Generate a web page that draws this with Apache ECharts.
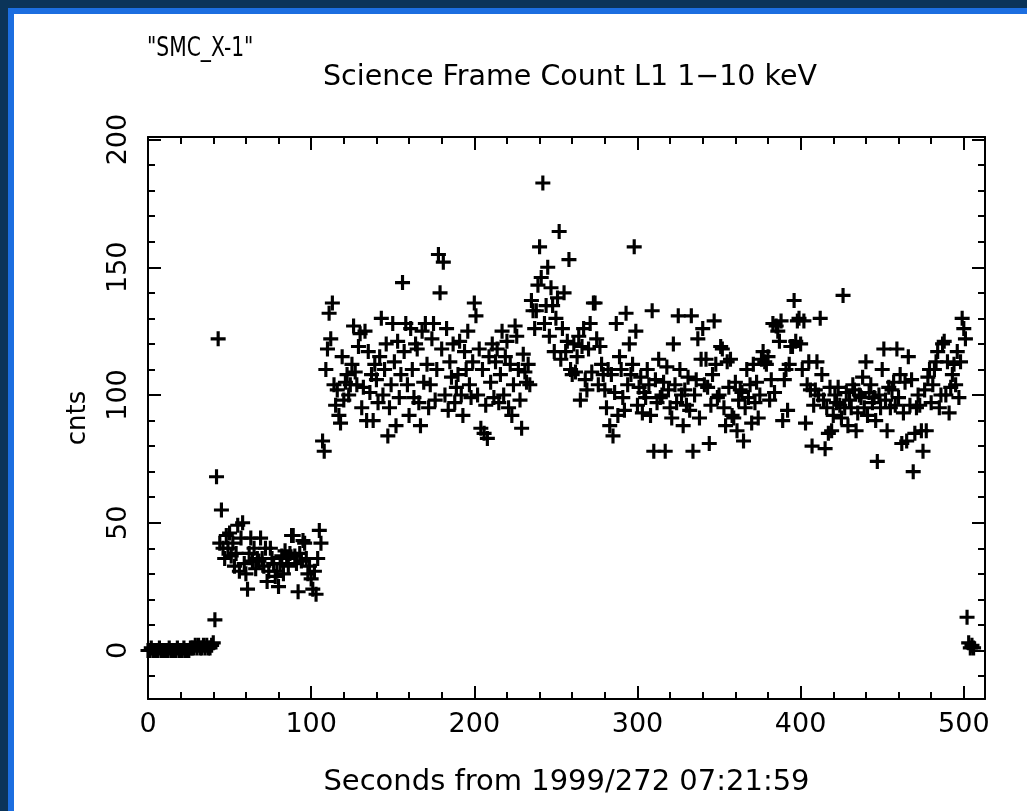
<!DOCTYPE html>
<html>
<head>
<meta charset="utf-8">
<script src="https://cdn.jsdelivr.net/npm/echarts@6/dist/echarts.min.js"></script>
<style>
html,body{margin:0;padding:0;background:#0b3459;}
#chart{width:1027px;height:811px;}
</style>
</head>
<body>
<div id="chart"></div>
<script>
// ---- data: counts per 1-second bin, grouped by 100 s blocks ----
const titleText = '"SMC_X-1"';
const subtitleText = 'Science Frame Count L1 1\u221210 keV';
const xName = 'Seconds from 1999/272 07:21:59';
const yName = 'cnts';
const xTickLabels = [0, 100, 200, 300, 400, 500];
const yTickLabels = [0, 50, 100, 150, 200];

const counts000 = [
  0,0,1,0,0,0,0,1,0,0,
  0,0,0,1,0,0,0,0,1,0,
  0,0,1,0,0,0,1,1,1,2,
  1,2,1,1,2,1,2,1,1,2,
  3,12,68,122,42,55,40,36,45,40,
  46,37,42,33,38,49,31,44,50,34,
  30,24,38,44,35,40,32,36,35,44,
  36,33,40,27,31,40,36,34,29,31,
  25,34,37,30,39,36,33,38,45,45,
  37,34,23,38,35,43,42,36,30,33
];
const counts100 = [
  28,24,31,22,36,47,42,82,78,110,
  118,132,122,136,104,96,102,92,89,115,
  98,105,108,100,104,112,127,109,104,119,
  124,95,103,125,90,117,101,108,90,112,
  106,97,115,130,100,110,120,84,95,104,
  128,113,88,121,99,108,144,117,128,104,
  92,126,110,99,120,118,97,88,125,105,
  128,112,95,104,122,128,98,110,155,140,
  118,152,100,126,94,113,107,120,97,103,
  108,121,100,92,117,110,125,104,99,113
];
const counts200 = [
  136,131,100,118,87,110,85,96,83,115,
  105,120,99,113,118,97,108,125,100,115,
  121,95,112,92,104,127,123,110,98,87,
  116,109,105,112,104,137,133,126,133,143,
  158,146,183,128,135,150,123,142,135,117,
  130,138,164,114,126,140,117,121,153,110,
  108,120,109,115,123,98,119,126,106,102,
  118,128,109,136,136,122,104,119,112,108,
  102,95,110,88,108,84,101,128,92,115,
  110,99,94,132,104,120,108,112,158,125
];
const counts300 = [
  96,103,107,93,101,99,110,104,92,133,
  78,106,97,114,99,100,105,78,111,102,
  95,91,120,104,97,131,110,100,88,102,
  96,107,94,131,78,100,106,122,91,114,
  126,104,114,103,81,96,108,129,112,99,
  100,119,118,95,88,113,103,114,92,91,
  105,86,98,102,101,82,95,110,99,104,
  89,112,97,105,91,100,114,117,113,112,
  115,98,106,128,101,127,125,121,129,90,
  106,110,94,112,119,119,137,121,129,130
];
const counts400 = [
  120,110,129,89,104,113,102,80,96,102,
  113,100,130,108,98,79,95,85,103,86,
  92,100,97,103,96,91,139,95,101,88,
  98,95,104,102,86,93,100,99,107,95,
  113,92,101,104,97,99,90,74,100,95,
  110,118,98,86,103,95,102,105,96,118,
  99,108,81,93,105,82,115,96,106,70,
  85,95,100,96,86,78,102,86,107,110,
  97,104,110,113,117,95,100,120,121,100,
  113,93,103,108,112,104,117,99,113,130
];
const counts500 = [126,122,13,3,1,2,1];

const blocks = [
  {start: 0, counts: counts000},
  {start: 100, counts: counts100},
  {start: 200, counts: counts200},
  {start: 300, counts: counts300},
  {start: 400, counts: counts400},
  {start: 500, counts: counts500}
];
const points = [];
blocks.forEach(b => b.counts.forEach((c, i) => points.push([b.start + i, c])));

// ---- axes helpers ----
const X_MIN = 0, X_MAX = 513, Y_MIN = -19, Y_MAX = 201;
function range(a, b, step) { const r = []; for (let v = a; v <= b + 1e-9; v += step) r.push(v); return r; }
const xMinor = range(0, 500, 20).filter(v => v % 100 !== 0);
const yMinor = range(-10, 200, 10).filter(v => v % 50 !== 0);

const FONT = 'DejaVu Sans';
const black = '#000';
function xAx(pos, ticks, len, showLine, labels) {
  return {
    type: 'value', position: pos, min: X_MIN, max: X_MAX,
    axisLine: {show: showLine, onZero: false, lineStyle: {color: black, width: 2}},
    axisTick: {show: true, inside: true, length: len, customValues: ticks, lineStyle: {color: black, width: 2}},
    axisLabel: labels ? {show: true, customValues: labels, color: black, fontFamily: FONT, fontSize: 27, margin: 12} : {show: false},
    splitLine: {show: false}
  };
}
function yAx(pos, ticks, len, showLine, labels) {
  return {
    type: 'value', position: pos, min: Y_MIN, max: Y_MAX,
    axisLine: {show: showLine, onZero: false, lineStyle: {color: black, width: 2}},
    axisTick: {show: true, inside: true, length: len, customValues: ticks, lineStyle: {color: black, width: 2}},
    axisLabel: labels ? {show: true, customValues: labels, rotate: 90, color: black, fontFamily: FONT, fontSize: 27, margin: 16} : {show: false},
    splitLine: {show: false}
  };
}

const xAxes = [
  Object.assign(xAx('bottom', xTickLabels, 13, true, xTickLabels), {
    name: xName, nameLocation: 'middle', nameGap: 69,
    nameTextStyle: {color: black, fontFamily: FONT, fontSize: 29}
  }),
  xAx('bottom', xMinor, 7, false, null),
  xAx('top', xTickLabels, 13, true, null),
  xAx('top', xMinor, 7, false, null)
];
const yAxes = [
  Object.assign(yAx('left', yTickLabels, 13, true, yTickLabels), {
    name: yName, nameLocation: 'middle', nameGap: 57, nameRotate: 90,
    nameTextStyle: {color: black, fontFamily: FONT, fontSize: 26}
  }),
  yAx('left', yMinor, 7, false, null),
  yAx('right', yTickLabels, 13, true, null),
  yAx('right', yMinor, 7, false, null)
];

const chart = echarts.init(document.getElementById('chart'), null, {renderer: 'canvas'});
chart.setOption({
  animation: false,
  backgroundColor: '#0b3459',
  graphic: [
    {type: 'rect', z: -10, shape: {x: 8, y: 8, width: 1030, height: 820}, style: {fill: '#1c6ee0'}},
    {type: 'rect', z: -9, shape: {x: 14, y: 14, width: 1020, height: 810}, style: {fill: '#ffffff'}},
    {type: 'text', z: 5, x: 147, y: 36, scaleX: 0.78, scaleY: 1,
     style: {text: titleText, fill: black, font: '26px "DejaVu Sans"', textVerticalAlign: 'top'}}
  ],
  title: [
    {text: subtitleText, left: 318, top: 58, textStyle: {color: black, fontFamily: FONT, fontSize: 28.5, fontWeight: 'normal'}}
  ],
  grid: {left: 148, top: 137, right: 42, bottom: 112, containLabel: false},
  xAxis: xAxes,
  yAxis: yAxes,
  series: [{
    type: 'scatter',
    xAxisIndex: 0, yAxisIndex: 0,
    data: points,
    symbol: 'path://M6,0H9.2V6H15.2V9.2H9.2V15.2H6V9.2H0V6H6Z',
    symbolSize: 15,
    itemStyle: {color: black, opacity: 1},
    silent: true,
    large: false
  }]
});
</script>
</body>
</html>
